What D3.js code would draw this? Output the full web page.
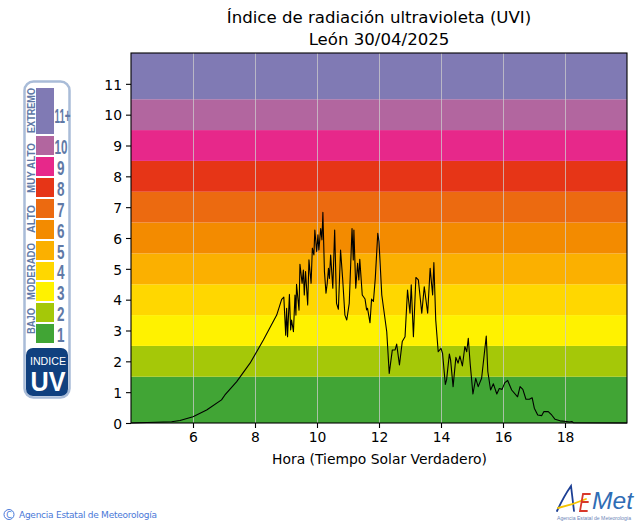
<!DOCTYPE html>
<html>
<head>
<meta charset="utf-8">
<script src="https://cdn.jsdelivr.net/npm/d3@7"></script>
<style>
  html, body { margin: 0; padding: 0; background: #fff; }
  svg { display: block; font-family: "DejaVu Sans", sans-serif; }
</style>
</head>
<body>
<svg id="chart" width="640" height="525"></svg>
<script>
var title = ["Índice de radiación ultravioleta (UVI)", "León 30/04/2025"];
var xLabel = "Hora (Tiempo Solar Verdadero)";
var xTicks = [6, 8, 10, 12, 14, 16, 18];
var yTicks = [0, 1, 2, 3, 4, 5, 6, 7, 8, 9, 10, 11];

var bandTops = [1.5, 2.5, 3.5, 4.5, 5.5, 6.5, 7.5, 8.5, 9.5, 10.5, 12];
var bandColors = ["#41a535", "#a5c808", "#fff200", "#ffd700", "#fbb000", "#f38b00", "#ec6a10", "#e63517", "#e7288a", "#b2669f", "#807ab4"];
var legendLabels = ["1", "2", "3", "4", "5", "6", "7", "8", "9", "10", "11+"];
var legendGroups = ["BAJO", "MODERADO", "ALTO", "MUY ALTO", "EXTREMO"];

var hours = [4, 5.31, 5.58, 6.0, 6.44, 6.92, 7.03, 7.41, 7.84, 8.27, 8.7, 8.86, 8.93,
  8.99, 9.02, 9.05, 9.11, 9.15, 9.18, 9.24, 9.29, 9.32, 9.34, 9.42, 9.45, 9.52, 9.56, 9.59, 9.63, 9.7,
  9.74, 9.81, 9.85, 9.9, 9.93, 9.99, 10.03, 10.06, 10.12, 10.16, 10.19, 10.24, 10.29,
  10.33, 10.37, 10.4, 10.44, 10.51, 10.57, 10.63, 10.69, 10.76, 10.83, 10.9, 10.96, 11.04, 11.13, 11.17, 11.19, 11.25,
  11.31, 11.35, 11.38, 11.46, 11.55, 11.6, 11.63, 11.71, 11.76, 11.82, 11.88, 11.96, 12.0, 12.09, 12.25, 12.33, 12.43, 12.52, 12.57, 12.66,
  12.75, 12.84, 12.92, 13.0, 13.04, 13.11, 13.19, 13.27, 13.38, 13.46, 13.57, 13.65, 13.69, 13.73, 13.77, 13.83, 13.91, 14.0, 14.05, 14.14,
  14.18, 14.27, 14.31, 14.39, 14.48, 14.55, 14.61, 14.69, 14.77, 14.83, 14.88, 14.94, 15.03, 15.12, 15.2, 15.31, 15.46, 15.51, 15.6, 15.69,
  15.8, 15.88, 15.97, 16.06, 16.15, 16.28, 16.47, 16.55, 16.64, 16.74, 16.85, 16.94, 17.01, 17.12, 17.25, 17.32, 17.46, 17.57, 17.68, 17.84,
  18.05, 18.14, 18.22, 18.27, 20];
var uvi = [0, 0.04, 0.08, 0.2, 0.42, 0.75, 0.91, 1.34, 1.94, 2.69, 3.5, 4.01, 4.08,
  2.85, 3.72, 2.8, 4.17, 3.02, 3.34, 2.96, 4.15, 3.5, 4.5, 3.66, 5.15, 4.53, 4.96, 4.15, 4.91, 3.83,
  5.29, 4.53, 5.67, 5.45, 6.26, 5.56, 6.1, 5.61, 6.31, 5.94, 6.83, 4.91, 4.21,
  4.53, 5.02, 4.69, 5.45, 4.37, 6.26, 3.88, 3.69, 5.61, 4.64, 3.5, 3.34, 3.88, 6.31, 5.29, 6.26, 4.37,
  5.18, 4.64, 5.31, 4.15, 4.02, 3.67, 3.72, 3.25, 4.02, 3.94, 4.69, 6.15, 5.88, 4.15, 2.96, 1.61, 2.37, 2.37, 2.56, 1.88,
  2.64, 2.8, 4.31, 3.56, 4.48, 2.8, 4.72, 4.64, 3.56, 4.42, 3.56, 5.02, 4.58, 4.15, 5.2, 3.34, 2.31, 2.42, 2.26, 1.25,
  1.4, 2.24, 2.04, 1.18, 2.13, 1.94, 2.17, 1.85, 2.48, 2.31, 2.75, 1.94, 0.94, 1.45, 1.18, 1.45, 2.82, 1.67, 1.07, 1.27,
  0.94, 1.12, 1.09, 1.31, 1.38, 1.07, 0.85, 1.18, 1.09, 0.77, 0.77, 0.82, 0.48, 0.26, 0.24, 0.37, 0.37, 0.26, 0.12, 0.07,
  0.05, 0.03, 0.05, 0.01, 0];

var svg = d3.select("#chart");

var plotLeft = 131, plotRight = 627, plotTop = 53, plotBottom = 423;

var scaleX = d3.scaleLinear().domain([4, 20]).range([plotLeft, plotRight]);
var scaleY = d3.scaleLinear().domain([0, 12]).range([plotBottom, plotTop]);

// colour bands behind the curve
svg.append("g")
  .selectAll("rect")
  .data(bandTops)
  .enter()
  .append("rect")
  .attr("x", plotLeft)
  .attr("width", plotRight - plotLeft)
  .attr("y", d => scaleY(d))
  .attr("height", (d, i) => scaleY(i ? bandTops[i - 1] : 0) - scaleY(d))
  .attr("fill", (d, i) => bandColors[i]);

// vertical grid
svg.append("g")
  .selectAll("line")
  .data(xTicks)
  .enter()
  .append("line")
  .attr("x1", d => scaleX(d) + 0.5)
  .attr("x2", d => scaleX(d) + 0.5)
  .attr("y1", plotTop)
  .attr("y2", plotBottom)
  .attr("stroke", "#cccccc")
  .attr("stroke-opacity", 0.75)
  .attr("stroke-width", 1);

var line = d3.line()
  .x(d => scaleX(d))
  .y((d, i) => scaleY(uvi[i]));

svg.append("path")
  .attr("d", line(hours))
  .attr("fill", "none")
  .attr("stroke", "#000")
  .attr("stroke-width", 1.1)
  .attr("stroke-linejoin", "round");

// frame and axes
svg.append("rect")
  .attr("x", plotLeft)
  .attr("y", plotTop)
  .attr("width", plotRight - plotLeft)
  .attr("height", plotBottom - plotTop)
  .attr("fill", "none")
  .attr("stroke", "#000")
  .attr("stroke-width", 1.1);

var axisX = svg.append("g")
  .attr("transform", "translate(0," + plotBottom + ")")
  .call(d3.axisBottom(scaleX).tickValues(xTicks).tickFormat(d3.format("d")).tickSize(5).tickPadding(4));
var axisY = svg.append("g")
  .attr("transform", "translate(" + plotLeft + ",0)")
  .call(d3.axisLeft(scaleY).tickValues(yTicks).tickFormat(d3.format("d")).tickSize(5).tickPadding(4));

[axisX, axisY].forEach(a => {
  a.select(".domain").remove();
  a.selectAll("text").attr("font-family", "DejaVu Sans").attr("font-size", 13.9).attr("fill", "#000");
  a.selectAll("line").attr("stroke", "#000").attr("stroke-width", 1.1);
});
axisY.selectAll("text").attr("dy", "0.38em");

svg.append("text")
  .attr("x", 379.5)
  .attr("y", 464)
  .attr("text-anchor", "middle")
  .attr("font-size", 13.9)
  .text(xLabel);

svg.append("g")
  .selectAll("text")
  .data(title)
  .enter()
  .append("text")
  .attr("x", 379)
  .attr("y", (d, i) => 23 + i * 21.5)
  .attr("text-anchor", "middle")
  .attr("font-size", 16.6)
  .text(d => d);

// UV index legend panel
var legendEdges = [88, 136, 157, 178, 199, 220, 241, 262, 282, 303, 324, 345];
var legendColors = bandColors.slice().reverse();
var legendText = legendLabels.slice().reverse();
var ink = "#5f79a6";

var panel = svg.append("g");

panel.append("rect")
  .attr("x", 24.5).attr("y", 81.5)
  .attr("width", 45).attr("height", 316)
  .attr("rx", 9)
  .attr("fill", "#fff")
  .attr("stroke", "#a9bcd8")
  .attr("stroke-width", 2.5);

panel.selectAll(".swatch")
  .data(legendColors)
  .enter()
  .append("rect")
  .attr("class", "swatch")
  .attr("x", 36)
  .attr("width", 18)
  .attr("y", (d, i) => legendEdges[i])
  .attr("height", (d, i) => legendEdges[i + 1] - legendEdges[i] - 2)
  .attr("fill", d => d);

panel.selectAll(".num")
  .data(legendText)
  .enter()
  .append("text")
  .attr("class", "num")
  .attr("x", d => d.length > 1 ? 54.5 : 57)
  .attr("y", (d, i) => (legendEdges[i] + legendEdges[i + 1]) / 2 + (d.length > 2 ? 11 : 7))
  .attr("font-family", "Liberation Sans")
  .attr("font-weight", "bold")
  .attr("fill", ink)
  .attr("font-size", 20)
  .attr("textLength", d => d.length > 2 ? 16 : d.length > 1 ? 13 : 7.5)
  .attr("lengthAdjust", "spacingAndGlyphs")
  .text(d => d);

var groupSpots = [[334, 26], [300, 57], [233, 28], [193, 50], [133, 45]];

panel.selectAll(".group")
  .data(legendGroups)
  .enter()
  .append("text")
  .attr("class", "group")
  .attr("transform", (d, i) => "translate(35," + groupSpots[i][0] + ") rotate(-90)")
  .attr("font-family", "Liberation Sans")
  .attr("font-weight", "bold")
  .attr("font-size", 10)
  .attr("fill", ink)
  .attr("textLength", (d, i) => groupSpots[i][1])
  .attr("lengthAdjust", "spacingAndGlyphs")
  .text(d => d);

panel.append("rect")
  .attr("x", 26).attr("y", 348)
  .attr("width", 42).attr("height", 48)
  .attr("rx", 7)
  .attr("fill", "#10407f");

panel.append("text")
  .attr("x", 48).attr("y", 364.5)
  .attr("text-anchor", "middle")
  .attr("font-family", "Liberation Sans")
  .attr("font-size", 11.5)
  .attr("fill", "#fff")
  .attr("textLength", 36)
  .attr("lengthAdjust", "spacingAndGlyphs")
  .text("INDICE");

panel.append("text")
  .attr("x", 48).attr("y", 390.5)
  .attr("text-anchor", "middle")
  .attr("font-family", "Liberation Sans")
  .attr("font-weight", "bold")
  .attr("font-size", 28)
  .attr("fill", "#fff")
  .attr("textLength", 35)
  .attr("lengthAdjust", "spacingAndGlyphs")
  .text("UV");

// copyright line
var blue = "#4a78d8";

svg.append("circle")
  .attr("cx", 9).attr("cy", 514.5).attr("r", 5)
  .attr("fill", "none").attr("stroke", blue).attr("stroke-width", 1);

svg.append("text")
  .attr("x", 9).attr("y", 517.5)
  .attr("text-anchor", "middle")
  .attr("font-size", 8)
  .attr("fill", blue)
  .text("C");

svg.append("text")
  .attr("x", 19).attr("y", 518)
  .attr("font-size", 9)
  .attr("fill", blue)
  .attr("textLength", 138)
  .attr("lengthAdjust", "spacing")
  .text("Agencia Estatal de Meteorología");

// AEMET logo
var logo = svg.append("g").attr("fill", "none").attr("stroke-linecap", "round");

logo.append("path")
  .attr("d", "M557,511 Q564,496 571,486 L574,511")
  .attr("stroke", "#1c3f94").attr("stroke-width", 1.8);
logo.append("path")
  .attr("d", "M558,508 Q572,505 586,499")
  .attr("stroke", "#f5c400").attr("stroke-width", 1.8);
logo.append("path")
  .attr("d", "M590,494 L583,494 L580,511 L587,511 M582,502 L588,502")
  .attr("stroke", "#d8382a").attr("stroke-width", 1.8);

logo.append("text")
  .attr("x", 592).attr("y", 509)
  .attr("font-family", "Liberation Sans")
  .attr("font-style", "italic")
  .attr("font-size", 24)
  .attr("fill", "#2f6db5")
  .attr("textLength", 41)
  .attr("lengthAdjust", "spacingAndGlyphs")
  .text("Met");

svg.append("text")
  .attr("x", 557).attr("y", 520)
  .attr("font-family", "Liberation Sans")
  .attr("font-size", 5.5)
  .attr("fill", "#6d86b8")
  .attr("textLength", 74)
  .attr("lengthAdjust", "spacingAndGlyphs")
  .text("Agencia Estatal de Meteorología");
</script>
</body>
</html>
